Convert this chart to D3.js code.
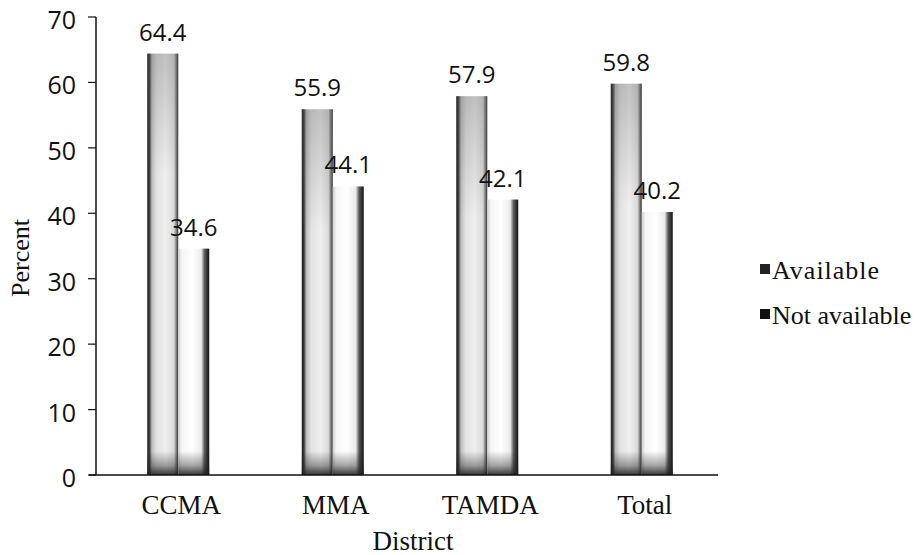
<!DOCTYPE html>
<html>
<head>
<meta charset="utf-8">
<script src="https://cdn.jsdelivr.net/npm/d3@7"></script>
<style>
  html, body { margin: 0; padding: 0; background: #fff; }
  svg { display: block; }
</style>
</head>
<body>
<svg id="chart" width="921" height="555"></svg>
<script>
// Availability by district (percent)
const districts = ["CCMA", "MMA", "TAMDA", "Total"];
const seriesNames = ["Available", "Not available"];
const available = [64.4, 55.9, 57.9, 59.8];
const notAvailable = [34.6, 44.1, 42.1, 40.2];
const yTicks = [0, 10, 20, 30, 40, 50, 60, 70];

const svg = d3.select("#chart");
const margin = { left: 96, top: 17, right: 203, bottom: 80 };
const W = 921, H = 555;
const plotBottom = H - margin.bottom; // 475

const y = d3.scaleLinear().domain([0, 70]).range([plotBottom, margin.top]);
const x = d3.scaleBand().domain(districts).range([101, 719]).paddingInner(0).paddingOuter(0);
const groupWidth = 62;
const xs = d3.scaleBand().domain(seriesNames).range([0, groupWidth]);

const rows = districts.map((d, i) => ({ district: d, values: [available[i], notAvailable[i]] }));

const sans = "'Open Sans', 'DejaVu Sans', sans-serif";
const serif = "'Liberation Serif', 'Times New Roman', serif";

// Gradients giving the bars their shaded, cylinder-like look
const defs = svg.append("defs");
function hGrad(id, stops) {
  const g = defs.append("linearGradient").attr("id", id)
    .attr("x1", "0").attr("x2", "1").attr("y1", "0").attr("y2", "0");
  stops.forEach(([o, c]) => g.append("stop").attr("offset", o).attr("stop-color", c));
}
hGrad("gAvail", [[0, "#1e1e1e"], [0.07, "#3a3a3a"], [0.15, "#bdbdbd"], [0.3, "#e2e2e2"], [0.6, "#efefef"], [0.86, "#dadada"], [0.95, "#707070"], [1, "#2e2e2e"]]);
hGrad("gNot", [[0, "#d0d0d0"], [0.12, "#f6f6f6"], [0.45, "#ffffff"], [0.74, "#ececec"], [0.85, "#5a5a5a"], [1, "#121212"]]);
const vg = defs.append("linearGradient").attr("id", "gBottom")
  .attr("x1", "0").attr("x2", "0").attr("y1", "0").attr("y2", "1");
vg.append("stop").attr("offset", 0).attr("stop-color", "#222").attr("stop-opacity", 0);
vg.append("stop").attr("offset", 0.6).attr("stop-color", "#222").attr("stop-opacity", 0.4);
vg.append("stop").attr("offset", 1).attr("stop-color", "#222").attr("stop-opacity", 0.9);
const vt = defs.append("linearGradient").attr("id", "gTop")
  .attr("x1", "0").attr("x2", "0").attr("y1", "0").attr("y2", "1");
vt.append("stop").attr("offset", 0).attr("stop-color", "#555").attr("stop-opacity", 0.3);
vt.append("stop").attr("offset", 1).attr("stop-color", "#555").attr("stop-opacity", 0);
const soft = defs.append("filter").attr("id", "soft").attr("color-interpolation-filters", "sRGB");
soft.append("feGaussianBlur").attr("stdDeviation", 0.7);

const fills = ["url(#gAvail)", "url(#gNot)"];

// Bars
const groups = svg.append("g").selectAll("g").data(rows).join("g")
  .attr("transform", d => `translate(${x(d.district) + x.bandwidth() / 2 - groupWidth / 2},0)`);

groups.each(function (d) {
  const g = d3.select(this);
  d.values.forEach((v, j) => {
    const bx = xs(seriesNames[j]);
    const bw = xs.bandwidth();
    const top = y(v);
    const h = plotBottom - top;
    const bar = g.append("g").attr("filter", "url(#soft)");
    bar.append("rect").attr("x", bx).attr("y", top).attr("width", bw).attr("height", h).attr("fill", fills[j]);
    if (j === 0) {
      bar.append("rect").attr("x", bx).attr("y", top).attr("width", bw).attr("height", Math.min(h, 120)).attr("fill", "url(#gTop)");
    }
    bar.append("rect").attr("x", bx).attr("y", plotBottom - 24).attr("width", bw).attr("height", 24).attr("fill", "url(#gBottom)");
  });
});

// Axes
svg.append("line").attr("x1", margin.left).attr("x2", margin.left)
  .attr("y1", margin.top).attr("y2", plotBottom).attr("stroke", "#111").attr("stroke-width", 1.5);
svg.append("line").attr("x1", 89).attr("x2", 718)
  .attr("y1", plotBottom).attr("y2", plotBottom).attr("stroke", "#111").attr("stroke-width", 1.5);

const yAxis = svg.append("g").selectAll("g").data(yTicks).join("g")
  .attr("transform", d => `translate(0,${y(d)})`);
yAxis.append("line").attr("x1", margin.left - 8).attr("x2", margin.left)
  .attr("stroke", "#111").attr("stroke-width", 1.2);
yAxis.append("text").attr("x", 76).attr("y", 3).attr("dy", "0.36em")
  .attr("text-anchor", "end")
  .attr("font-family", sans)
  .attr("font-size", 25).attr("fill", "#111")
  .text(d => d);

// Value labels
groups.each(function (d) {
  const g = d3.select(this);
  d.values.forEach((v, j) => {
    g.append("text")
      .attr("x", xs(seriesNames[j]) + xs.bandwidth() / 2)
      .attr("y", y(v) - 13)
      .attr("text-anchor", "middle")
      .attr("font-family", sans)
      .attr("font-size", 24).attr("fill", "#111")
      .text(v.toFixed(1));
  });
});

// Category labels
svg.append("g").selectAll("text").data(districts).join("text")
  .attr("x", d => x(d) + x.bandwidth() / 2 + 3)
  .attr("y", 514)
  .attr("text-anchor", "middle")
  .attr("font-family", serif)
  .attr("font-size", 27).attr("fill", "#111")
  .text(d => d);

// Axis titles
svg.append("text").attr("x", 413).attr("y", 550).attr("text-anchor", "middle")
  .attr("font-family", serif)
  .attr("font-size", 27).attr("fill", "#111").text("District");
svg.append("text").attr("transform", "translate(29,258) rotate(-90)").attr("text-anchor", "middle")
  .attr("font-family", serif)
  .attr("font-size", 26).attr("fill", "#111").text("Percent");

// Legend
const legend = svg.append("g").selectAll("g").data(seriesNames).join("g")
  .attr("transform", (d, i) => `translate(760,${270 + i * 45})`);
legend.append("rect").attr("x", 0).attr("y", -6).attr("width", 10).attr("height", 10)
  .attr("fill", (d, i) => i === 0 ? "#222" : "#111");
legend.append("text").attr("x", 12).attr("y", 0).attr("dy", "0.35em")
  .attr("font-family", serif)
  .attr("font-size", 26).attr("fill", "#111")
  .attr("letter-spacing", (d, i) => i === 0 ? 1 : 0)
  .text(d => d);
</script>
</body>
</html>
